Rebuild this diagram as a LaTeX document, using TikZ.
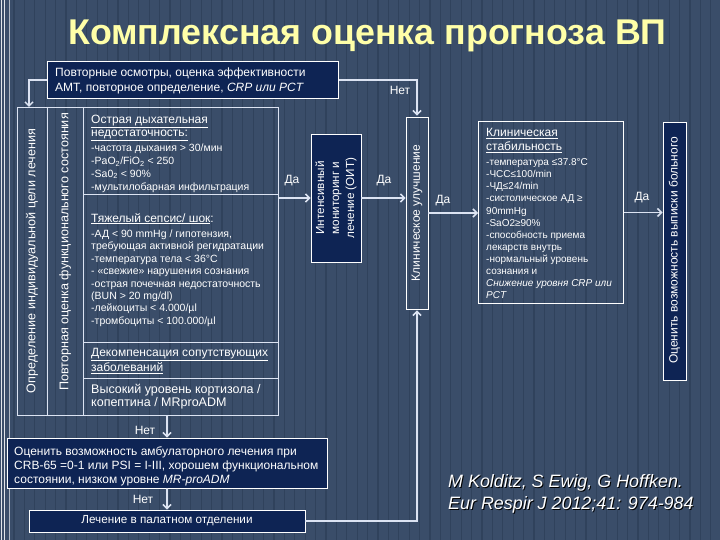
\documentclass[tikz,border=0pt]{standalone}
\usepackage{fontspec}
\setmainfont{Liberation Sans}
\usetikzlibrary{arrows.meta}
\definecolor{bgc}{HTML}{3A4D69}
\definecolor{stripec}{HTML}{30425C}
\definecolor{navyc}{HTML}{0E2454}
\definecolor{linec}{HTML}{DCE3F2}
\definecolor{titlec}{HTML}{FFFFA8}
\newcommand\hd[1]{\underline{#1}}
\newcommand\whd[1]{{\fontsize{12}{13}\selectfont\underline{#1}}}
\tikzset{
  tbl/.style={draw=linec, line width=0.9pt},
  navybox/.style={draw=white, line width=0.9pt, fill=navyc, inner sep=0},
  wbox/.style={draw=white, line width=0.9pt, inner sep=0},
  arr/.style={draw=linec, line width=1.8pt, -{Straight Barb[length=4pt,width=8pt,line width=1.5pt]}},
  lbl/.style={text=white, font=\fontsize{12}{14}\selectfont, inner sep=0},
  rowt/.style={text=white, anchor=north west, inner sep=0, align=left, font=\fontsize{10.5}{12.4}\selectfont},
  vtxt/.style={text=white, rotate=90, inner sep=0, align=center},
}
\begin{document}
\begin{tikzpicture}[x=1pt,y=-1pt]
\useasboundingbox (0,0) rectangle (720,540);
\fill[bgc] (0,0) rectangle (720,540);
\foreach \x in {14,24.4,...,720} \draw[stripec, line width=1.3pt] (\x,0) -- (\x,540);
\draw[white!85!bgc, line width=1pt] (1.5,0) -- (1.5,540) (4.5,0) -- (4.5,540);
\draw[white!60!bgc, line width=0.8pt] (9,0) -- (9,540);

% title
\node[text=titlec, font=\fontsize{35.8}{40}\selectfont\bfseries, inner sep=0] (title) at (367.5,36) {Комплексная оценка прогноза ВП};

% top box
\node[navybox, minimum width=291, minimum height=37, anchor=north west] (tb) at (47,61) {};
\node[text=white, anchor=west, align=left, inner sep=0, font=\fontsize{12}{15.5}\selectfont] (tbT) at (55,81)
  {Повторные осмотры, оценка эффективности\\АМТ, повторное определение, \textit{CRP или PCT}};

% left table
\node[tbl, minimum width=261, minimum height=308, anchor=north west, inner sep=0] (tbl) at (17,107) {};
\draw[tbl] (47,107) -- (47,415) (83,107) -- (83,415);
\draw[tbl] (83,194) -- (278,194) (83,342) -- (278,342) (83,378) -- (278,378);
\node[vtxt, font=\fontsize{12.6}{15}\selectfont] (c1) at (32,261) {Определение индивидуальной цели лечения};
\node[vtxt, font=\fontsize{12.6}{15}\selectfont] (c2) at (65,252) {Повторная оценка функционального состояния};

\node[rowt, font=\fontsize{10.5}{12.8}\selectfont] (r1) at (91,114.5) {\whd{Острая дыхательная}\\[0.5pt]
  \whd{недостаточность:}\\[2.5pt]
  -частота дыхания > 30/мин\\
  -PaO\textsubscript{2}/FiO\textsubscript{2} < 250\\
  -Sa0\textsubscript{2} < 90\%\\
  -мультилобарная инфильтрация};
\node[rowt] (r2) at (91,213) {\whd{Тяжелый сепсис/ шок}{\fontsize{12}{13}\selectfont:}\\[3pt]
  -АД < 90 mmHg / гипотензия,\\
  требующая активной регидратации\\
  -температура тела < 36°C\\
  - «свежие» нарушения сознания\\
  -острая почечная недостаточность\\
  (BUN > 20 mg/dl)\\
  -лейкоциты < 4.000/µl\\
  -тромбоциты < 100.000/µl};
\node[rowt, font=\fontsize{12}{15}\selectfont] (r3) at (91,348) {\hd{Декомпенсация сопутствующих}\\\hd{заболеваний}};
\node[rowt, font=\fontsize{12.5}{13.5}\selectfont] (r4) at (91,384) {Высокий уровень кортизола /\\копептина / MRproADM};

% intensive care
\node[navybox, minimum width=50, minimum height=128] (ikt) at (336,198) {};
\node[vtxt, font=\fontsize{11.7}{15}\selectfont] (iktT) at (ikt.center) {Интенсивный\\мониторинг и\\лечение (ОИТ)};

% clinical improvement
\node[wbox, minimum width=22, minimum height=192] (ku) at (417,213) {};
\node[vtxt, font=\fontsize{12}{15}\selectfont] (kuT) at (ku.center) {Клиническое улучшение};

% clinical stability
\node[wbox, minimum width=145, minimum height=182, anchor=north west] (ks) at (478,121) {};
\node[text=white, anchor=north west, align=left, inner sep=0, font=\fontsize{10}{12.1}\selectfont] (ksT) at (486,128)
  {{\fontsize{12}{14}\selectfont\hd{Клиническая}}\\[2pt]
   {\fontsize{12}{14}\selectfont\hd{стабильность}}\\[3pt]
   -температура ≤37.8°C\\
   -ЧСС≤100/min\\
   -ЧД≤24/min\\
   -систолическое АД ≥\\
   90mmHg\\
   -SaO2≥90\%\\
   -способность приема\\
   лекарств внутрь\\
   -нормальный уровень\\
   сознания и\\
   \textit{Снижение уровня CRP или}\\
   \textit{PCT}};

% discharge
\node[navybox, minimum width=23, minimum height=258] (ocb) at (674.5,251) {};
\node[vtxt, font=\fontsize{12}{14}\selectfont] (ocbT) at (674.5,250.5) {Оценить возможность выписки больного};

% ambulatory
\node[navybox, minimum width=320, minimum height=50] (amb) at (167,463) {};
\node[text=white, anchor=west, align=left, inner sep=0, font=\fontsize{12}{14}\selectfont] (ambT) at (14,466)
  {Оценить возможность амбулаторного лечения при\\CRB-65 =0-1 или PSI = I-III, хорошем функциональном\\состоянии, низком уровне \textit{MR-proADM}};

% ward
\node[navybox, minimum width=276, minimum height=22, text=white, font=\fontsize{11.7}{14}\selectfont] (lech) at (167,521) {Лечение в палатном отделении};

% connectors
\coordinate (tl) at (29,107);
\draw[arr] (tb.west) -| (tl);
\draw[arr, shorten >=1pt] (tb.east) -| (ku.north);
\draw[arr] (ikt.west -| tbl.east) -- (ikt.west);
\draw[arr] (ikt.east) -- (ikt.east -| ku.west);
\draw[arr] (ku.east) -- (ku.east -| ks.west);
\draw[arr] (ks.east) -- (ks.east -| ocb.west);
\draw[arr] (tbl.south -| amb.north) -- (amb.north);
\draw[arr] (amb.south) -- (lech.north);
\draw[arr, shorten >=1pt] (lech.east) -| (ku.south);

% labels
\node[lbl] (l1) at (292,181) {Да};
\node[lbl] (l2) at (384,181) {Да};
\node[lbl] (l3) at (443,201) {Да};
\node[lbl] (l4) at (642,198) {Да};
\node[lbl] (n1) at (400,90) {Нет};
\node[lbl] (n2) at (145,430) {Нет};
\node[lbl] (n3) at (143,499) {Нет};

% citation
\node[text=black, anchor=west, align=left, inner sep=0, font=\fontsize{17.9}{22}\selectfont\itshape] (citeS) at (449,495) {M Kolditz, S Ewig, G Hoffken.\\Eur Respir J 2012;41: 974-984};
\node[text=white, anchor=west, align=left, inner sep=0, font=\fontsize{17.9}{22}\selectfont\itshape] (cite) at (448,494) {M Kolditz, S Ewig, G Hoffken.\\Eur Respir J 2012;41: 974-984};
\end{tikzpicture}
\end{document}
